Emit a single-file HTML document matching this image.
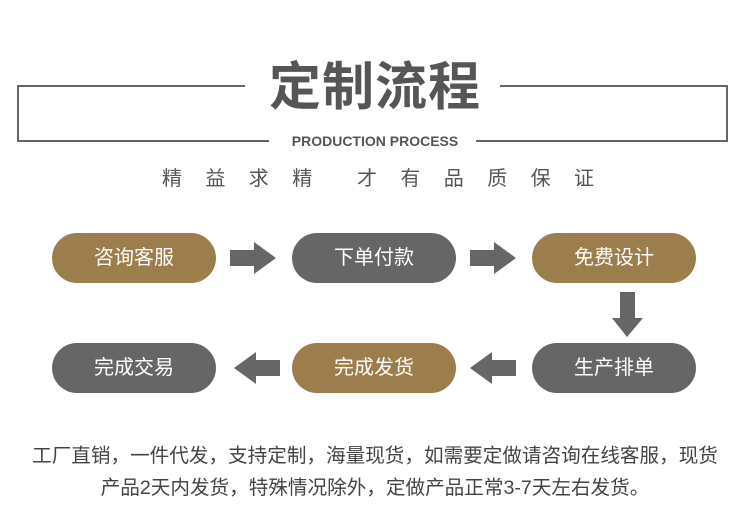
<!DOCTYPE html>
<html><head><meta charset="utf-8"><style>
body{margin:0;width:750px;height:521px;background:#fff;position:relative;overflow:hidden;font-family:"Liberation Sans","Noto Sans CJK SC",sans-serif}
.a{position:absolute}
.l{position:absolute;background:#666}
.pill{position:absolute;width:164px;height:50px;border-radius:25px;color:#fff;font-size:20px;line-height:50px;text-align:center}
.g{background:#9c7d4c}.d{background:#666}
</style></head><body>
<div class="l" style="left:17px;top:85px;width:228px;height:2px"></div>
<div class="l" style="left:500px;top:85px;width:228px;height:2px"></div>
<div class="l" style="left:17px;top:85px;width:2px;height:57px"></div>
<div class="l" style="left:726px;top:85px;width:2px;height:57px"></div>
<div class="l" style="left:17px;top:140px;width:252px;height:2px"></div>
<div class="l" style="left:476px;top:140px;width:252px;height:2px"></div>
<div class="a" style="left:0;width:750px;top:55px;text-align:center;font-size:52px;font-weight:bold;color:#555;line-height:66px;letter-spacing:1px">定制流程</div>
<div class="a" style="left:0;width:750px;top:131px;text-align:center;font-size:14px;font-weight:bold;color:#555;line-height:20px">PRODUCTION PROCESS</div>
<div class="a" style="left:162px;top:165px;font-size:20px;color:#555;line-height:28px;letter-spacing:23.4px;white-space:pre">精益求精</div>
<div class="a" style="left:357px;top:165px;font-size:20px;color:#555;line-height:28px;letter-spacing:23.4px;white-space:pre">才有品质保证</div>

<div class="pill g" style="left:52px;top:233px">咨询客服</div>
<div class="pill d" style="left:292px;top:233px">下单付款</div>
<div class="pill g" style="left:532px;top:233px">免费设计</div>
<div class="pill d" style="left:52px;top:343px">完成交易</div>
<div class="pill g" style="left:292px;top:343px">完成发货</div>
<div class="pill d" style="left:532px;top:343px">生产排单</div>

<svg class="a" style="left:0;top:0" width="750" height="521">
<g fill="#666">
<polygon points="230,250 254,250 254,242 276,258 254,274 254,266 230,266"/>
<polygon points="470,250 494,250 494,242 516,258 494,274 494,266 470,266"/>
<polygon points="620,292 635,292 635,318 643,318 627,337 612,318 620,318"/>
<polygon points="516,360 492,360 492,352 470,368 492,384 492,376 516,376"/>
<polygon points="280,360 256,360 256,352 234,368 256,384 256,376 280,376"/>
</g></svg>

<div class="a" style="left:0;width:750px;top:440px;text-align:center;font-size:19.6px;color:#444;line-height:32px;white-space:nowrap">工厂直销，一件代发，支持定制，海量现货，如需要定做请咨询在线客服，现货<br>产品2天内发货，特殊情况除外，定做产品正常3-7天左右发货。</div>
</body></html>
